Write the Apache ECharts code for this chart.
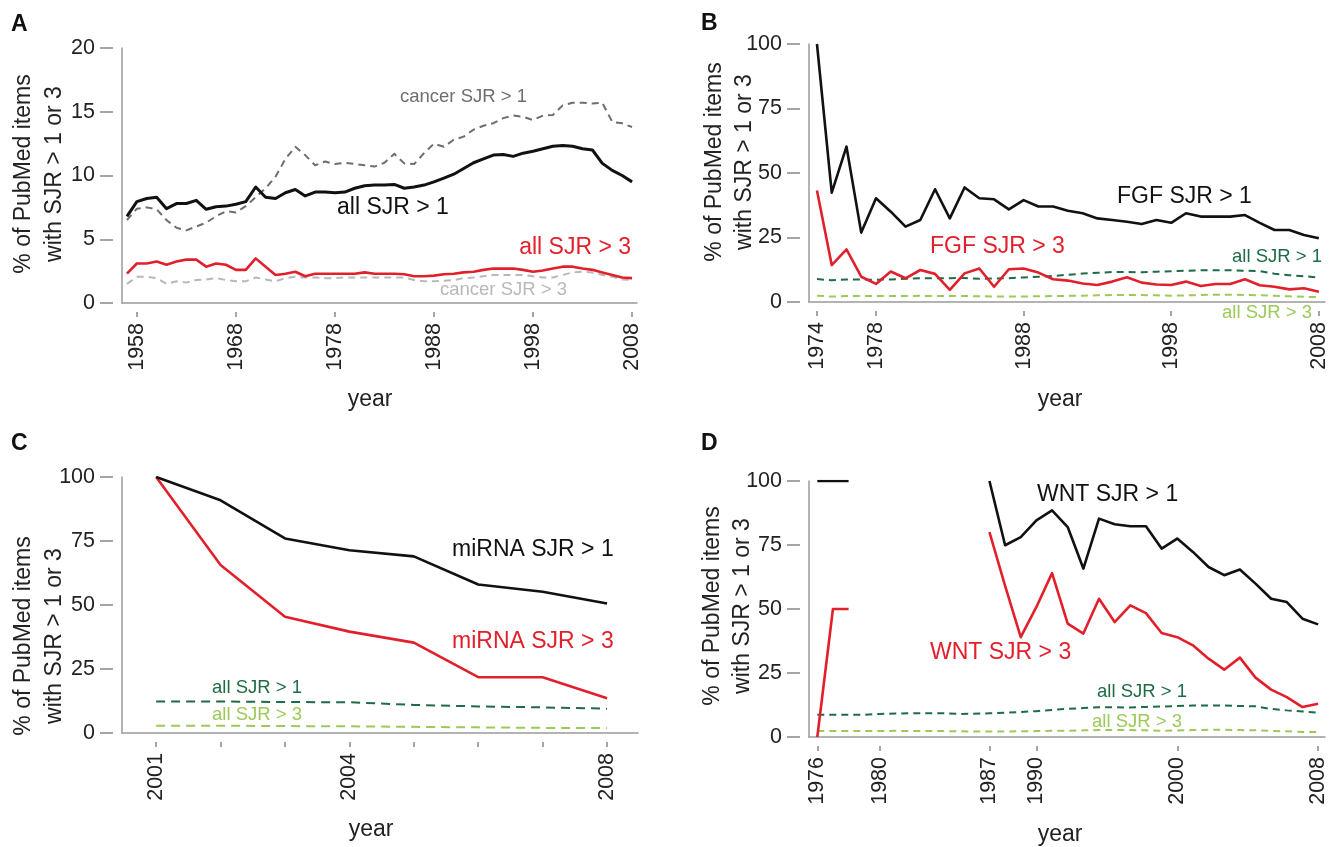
<!DOCTYPE html>
<html>
<head>
<meta charset="utf-8">
<script src="https://cdn.jsdelivr.net/npm/echarts@6/dist/echarts.min.js"></script>
<style>
  html, body { margin: 0; padding: 0; background: #fff; }
  #chart { width: 1332px; height: 847px; }
</style>
</head>
<body>
<div id="chart"></div>
<script>
// all PubMed, 1957-2008
const allStart = 1957;
const allSJR1 = [6.8, 7.95, 8.2, 8.3, 7.4, 7.8, 7.8, 8.05, 7.35, 7.55, 7.6, 7.75, 7.95, 9.1, 8.3, 8.2, 8.65, 8.9, 8.4, 8.7, 8.7, 8.65,
  8.7, 9.0, 9.2, 9.25, 9.25, 9.3, 9.0, 9.1, 9.25, 9.5, 9.8, 10.1, 10.55, 11.0, 11.3, 11.6, 11.65, 11.5, 11.75, 11.9, 12.1, 12.3, 12.35, 12.3, 12.1, 12.0, 10.95, 10.4, 10.0, 9.5];
const allSJR3 = [2.3, 3.1, 3.1, 3.25, 3.0, 3.25, 3.4, 3.4, 2.85, 3.1, 3.0, 2.6, 2.6, 3.5, 2.85, 2.2, 2.3, 2.45, 2.1, 2.3, 2.3, 2.3,
  2.3, 2.3, 2.4, 2.3, 2.3, 2.3, 2.25, 2.1, 2.1, 2.15, 2.25, 2.3, 2.4, 2.45, 2.6, 2.7, 2.7, 2.7, 2.6, 2.45, 2.55, 2.7, 2.85, 2.85, 2.7, 2.6, 2.4, 2.2, 2.0, 1.95];
const cancerSJR1 = [6.5, 7.4, 7.5, 7.35, 6.5, 5.9, 5.7, 6.0, 6.3, 6.8, 7.2, 7.1, 7.6, 8.3, 9.0, 9.9, 11.3, 12.25, 11.6, 10.8, 11.1, 10.9,
  11.0, 10.9, 10.8, 10.7, 11.0, 11.7, 10.95, 10.9, 11.75, 12.5, 12.25, 12.8, 13.05, 13.6, 13.9, 14.1, 14.5, 14.7, 14.6, 14.35, 14.7, 14.75, 15.5, 15.7, 15.7, 15.65, 15.7, 14.2, 14.1, 13.8];
const cancerSJR3 = [1.5, 2.05, 2.05, 1.95, 1.5, 1.7, 1.6, 1.8, 1.85, 1.95, 1.8, 1.7, 1.7, 2.0, 1.85, 1.7, 1.95, 2.05, 2.0, 2.0, 1.95, 1.95,
  2.0, 2.0, 2.0, 2.0, 2.0, 2.0, 2.0, 1.8, 1.7, 1.7, 1.75, 1.8, 1.95, 2.0, 2.1, 2.2, 2.2, 2.2, 2.2, 2.1, 2.0, 2.0, 2.2, 2.4, 2.45, 2.4, 2.2, 2.05, 1.85, 1.8];

// FGF, 1974-2008
const fgfStart = 1974;
const fgfSJR1 = [100, 42.4, 60.2, 26.9, 40.2, 35, 29.2, 31.8, 43.7, 32.4, 44.4, 40.2, 39.8,
  35.9, 39.5, 37, 37, 35.4, 34.4, 32.4, 31.8, 31.1, 30.2, 31.8, 30.7, 34.4, 33.1, 33.1, 33.1, 33.7, 30.7, 27.9, 27.9, 26, 24.7];
const fgfSJR3 = [43.2, 14.3, 20.4, 9.8, 7.0, 11.8, 9.2, 12.4, 10.9, 4.7, 11.1, 13.0, 5.9,
  12.7, 13.0, 11.4, 8.8, 8.3, 7.2, 6.6, 7.9, 9.6, 7.5, 6.8, 6.6, 7.9, 6.2, 7.0, 7.0, 8.8, 6.5, 5.9, 4.9, 5.3, 4.0];

// miRNA, 2001-2008
const mirStart = 2001;
const mirSJR1 = [100, 90.9, 76, 71.4, 69, 58, 55.2, 50.6];
const mirSJR3 = [100, 65.6, 45.4, 39.6, 35.3, 21.8, 21.8, 13.6];

// WNT, 1976-2008 (no items 1979-1986)
const wntStart = 1976;
const wntSJR1 = [100, 100, 100, null, null, null, null, null, null, null, null,
  100, 74.9, 78.1, 84.6, 88.5, 82, 65.8, 85.3, 83.1, 82.3, 82.3, 73.6, 77.5, 72.3, 66.4, 63.2, 65.4, 59.9, 54, 52.7, 46.2, 44];
const wntSJR3 = [0, 50, 50, null, null, null, null, null, null, null, null,
  80, 59, 39, 50.8, 64, 44.3, 40.4, 54, 44.9, 51.4, 48.4, 40.6, 39, 35.8, 30.6, 26.3, 31, 23.2, 18.5, 15.6, 11.7, 13];

// tick positions and labels
const aTicks = [1958, 1968, 1978, 1988, 1998, 2008];
const bTicks = [1974, 1978, 1988, 1998, 2008];
const cTicks = [2001, 2002, 2003, 2004, 2005, 2006, 2007, 2008];
const cLabels = ['2001', '', '', '2004', '', '', '', '2008'];
const dTicks = [1976, 1980, 1987, 1990, 1999, 2008]; // "2000" sits one step early in the original
const dLabels = ['1976', '1980', '1987', '1990', '2000', '2008'];

const FONT = '"Liberation Sans", Arial, sans-serif';
const BLACK = '#111111', RED = '#e2202b', DKGREEN = '#1f6b45', LTGREEN = '#9cc95a';
const GREY1 = '#6e6e6e', GREY3 = '#b8b8b8', AXIS = '#9a9a9a';

function pairs(start, values, from) {
  const out = [];
  values.forEach((v, i) => {
    const yr = start + i;
    if (from === undefined || yr >= from) out.push([yr, v]);
  });
  return out;
}

const chart = echarts.init(document.getElementById('chart'));

const panels = [
  { grid: { left: 122, top: 48, width: 515, height: 255 }, xMin: 1956.5, xMax: 2008.5, yMax: 20, yStep: 5,
    ticks: aTicks, labels: null },
  { grid: { left: 809, top: 44, width: 516, height: 258 }, xMin: 1973.46, xMax: 2008.42, yMax: 100, yStep: 25,
    ticks: bTicks, labels: null },
  { grid: { left: 122, top: 477, width: 516, height: 256 }, xMin: 2000.47, xMax: 2008.48, yMax: 100, yStep: 25,
    ticks: cTicks, labels: cLabels },
  { grid: { left: 809, top: 481, width: 516, height: 256 }, xMin: 1975.47, xMax: 2008.44, yMax: 100, yStep: 25,
    ticks: dTicks, labels: dLabels }
];

const grids = [], xAxes = [], yAxes = [];
panels.forEach((p, g) => {
  grids.push(p.grid);
  // plain axis lines on the plot edges
  xAxes.push({ type: 'value', gridIndex: g, position: 'bottom', min: p.xMin, max: p.xMax,
    axisLine: { show: true, onZero: false, lineStyle: { color: AXIS, width: 1.5 } },
    axisTick: { show: false }, axisLabel: { show: false }, splitLine: { show: false } });
  // detached ticks and labels
  xAxes.push({ type: 'value', gridIndex: g, position: 'bottom', min: p.xMin, max: p.xMax, offset: 9,
    axisLine: { show: false, onZero: false }, splitLine: { show: false },
    axisTick: { show: true, customValues: p.ticks, length: 5, lineStyle: { color: '#888', width: 1.5 } },
    axisLabel: { show: true, customValues: p.ticks, rotate: 90, margin: 11,
      fontSize: 21.5, fontFamily: FONT, color: '#222',
      formatter: v => p.labels ? p.labels[p.ticks.indexOf(v)] : String(v) } });
  yAxes.push({ type: 'value', gridIndex: g, position: 'left', min: 0, max: p.yMax, interval: p.yStep,
    axisLine: { show: true, onZero: false, lineStyle: { color: AXIS, width: 1.5 } },
    axisTick: { show: false }, axisLabel: { show: false }, splitLine: { show: false } });
  yAxes.push({ type: 'value', gridIndex: g, position: 'left', min: 0, max: p.yMax, interval: p.yStep, offset: 9,
    axisLine: { show: false, onZero: false }, splitLine: { show: false },
    axisTick: { show: true, length: 13, lineStyle: { color: '#888', width: 1.5 } },
    axisLabel: { show: true, margin: 18, fontSize: 21.5, fontFamily: FONT, color: '#222' } });
});

function line(g, data, color, width, dash) {
  return {
    type: 'line', xAxisIndex: 2 * g, yAxisIndex: 2 * g, data: data,
    symbol: 'none', silent: true, animation: false,
    lineStyle: { color: color, width: width, type: dash || 'solid', cap: 'butt', join: 'round' }
  };
}

const D1 = [7, 5], D2 = [9, 6];
const series = [
  line(0, pairs(allStart, cancerSJR3), GREY3, 2, D1),
  line(0, pairs(allStart, cancerSJR1), GREY1, 2, D1),
  line(0, pairs(allStart, allSJR3), RED, 2.6),
  line(0, pairs(allStart, allSJR1), BLACK, 3),

  line(1, pairs(allStart, allSJR3, fgfStart), LTGREEN, 2, D1),
  line(1, pairs(allStart, allSJR1, fgfStart), DKGREEN, 2, D1),
  line(1, pairs(fgfStart, fgfSJR3), RED, 2.6),
  line(1, pairs(fgfStart, fgfSJR1), BLACK, 2.6),

  line(2, pairs(allStart, allSJR3, mirStart), LTGREEN, 2, D2),
  line(2, pairs(allStart, allSJR1, mirStart), DKGREEN, 2, D2),
  line(2, pairs(mirStart, mirSJR3), RED, 2.6),
  line(2, pairs(mirStart, mirSJR1), BLACK, 2.6),

  line(3, pairs(allStart, allSJR3, wntStart), LTGREEN, 2, D1),
  line(3, pairs(allStart, allSJR1, wntStart), DKGREEN, 2, D1),
  line(3, pairs(wntStart, wntSJR3), RED, 2.6),
  line(3, pairs(wntStart, wntSJR1), BLACK, 2.6)
];

function txt(text, x, y, size, color, align, extra) {
  return Object.assign({
    type: 'text', x: x, y: y, silent: true,
    style: { text: text, font: size + 'px ' + FONT, fill: color,
      align: align || 'left', textAlign: align || 'left',
      verticalAlign: 'middle', textVerticalAlign: 'middle' }
  }, extra || {});
}
function boldTxt(text, x, y) {
  return {
    type: 'text', x: x, y: y, silent: true,
    style: { text: text, font: 'bold 23px ' + FONT, fill: '#111',
      align: 'left', textAlign: 'left', verticalAlign: 'middle', textVerticalAlign: 'middle' }
  };
}
function yTitle(x1, x2, cy) {
  const rot = { rotation: Math.PI / 2 };
  return [
    txt('% of PubMed items', x1, cy, 23, '#222', 'center', rot),
    txt('with SJR > 1 or 3', x2, cy, 23, '#222', 'center', rot)
  ];
}

const graphics = [
  boldTxt('A', 11, 25), boldTxt('B', 701, 24), boldTxt('C', 11, 444), boldTxt('D', 701, 444),
  ...yTitle(24, 55, 174), ...yTitle(715, 745, 162), ...yTitle(24, 55, 636), ...yTitle(713, 743, 606),
  txt('year', 370, 400, 23, '#222', 'center'),
  txt('year', 1060, 400, 23, '#222', 'center'),
  txt('year', 371, 830, 23, '#222', 'center'),
  txt('year', 1060, 835, 23, '#222', 'center'),

  txt('cancer SJR > 1', 400, 97, 18.5, GREY1),
  txt('all SJR > 1', 337, 208, 23, BLACK),
  txt('all SJR > 3', 631, 248, 23, RED, 'right'),
  txt('cancer SJR > 3', 440, 290, 18.5, GREY3),

  txt('FGF SJR > 1', 1117, 197, 23, BLACK),
  txt('FGF SJR > 3', 930, 247, 23, RED),
  txt('all SJR > 1', 1232, 257, 18.5, DKGREEN),
  txt('all SJR > 3', 1222, 313, 18.5, LTGREEN),

  txt('miRNA SJR > 1', 452, 550, 23, BLACK),
  txt('miRNA SJR > 3', 452, 642, 23, RED),
  txt('all SJR > 1', 212, 688, 18.5, DKGREEN),
  txt('all SJR > 3', 212, 715, 18.5, LTGREEN),

  txt('WNT SJR > 1', 1037, 495, 23, BLACK),
  txt('WNT SJR > 3', 930, 653, 23, RED),
  txt('all SJR > 1', 1097, 692, 18.5, DKGREEN),
  txt('all SJR > 3', 1092, 722, 18.5, LTGREEN)
];

chart.setOption({
  animation: false,
  backgroundColor: '#fff',
  grid: grids,
  xAxis: xAxes,
  yAxis: yAxes,
  series: series,
  graphic: graphics
});
</script>
</body>
</html>
